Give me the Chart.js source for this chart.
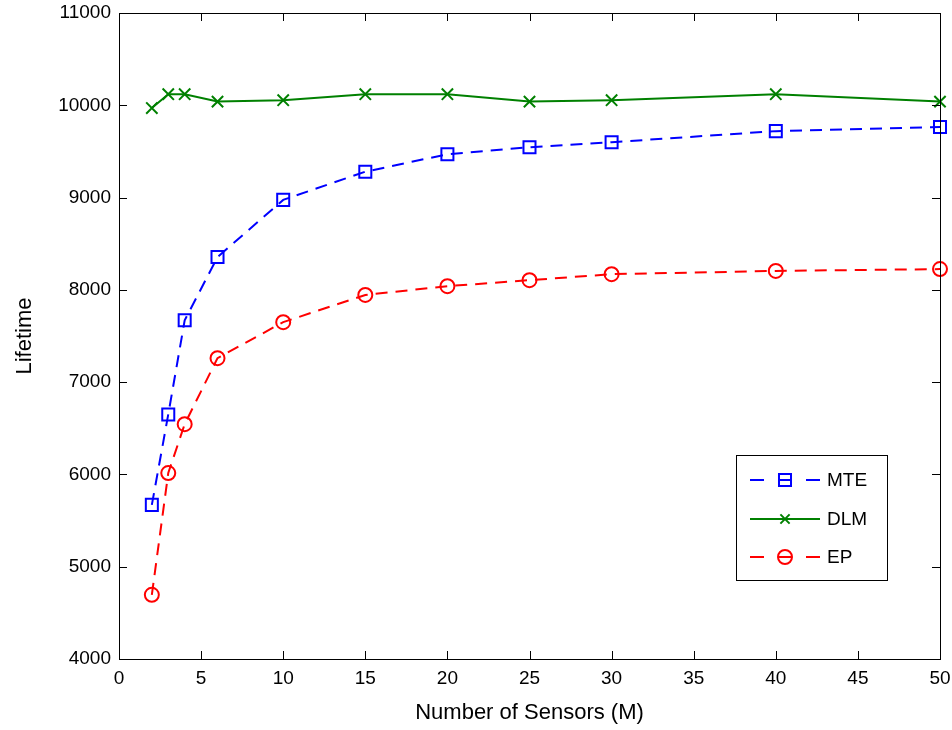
<!DOCTYPE html>
<html>
<head>
<meta charset="utf-8">
<script src="https://cdn.jsdelivr.net/npm/chart.js@4"></script>
<style>
  html, body { margin: 0; padding: 0; background: #fff; }
  #wrap { width: 952px; height: 730px; }
</style>
</head>
<body>
<div id="wrap"><canvas id="grafico"></canvas></div>
<script>
// data
const sensores = [2, 3, 4, 6, 10, 15, 20, 25, 30, 40, 50];
const valoresMTE = [5670, 6650, 7670, 8355, 8975, 9280, 9470, 9545, 9600, 9720, 9765];
const valoresDLM = [9970, 10120, 10120, 10040, 10055, 10120, 10120, 10040, 10055, 10120, 10040];
const valoresEP = [4695, 6015, 6545, 7260, 7650, 7945, 8040, 8105, 8170, 8205, 8225];
const ticksX = [0, 5, 10, 15, 20, 25, 30, 35, 40, 45, 50];
const ticksY = [4000, 5000, 6000, 7000, 8000, 9000, 10000, 11000];

const FUENTE = "'Liberation Sans', Arial, Helvetica, sans-serif";

function puntos(vals) {
  return sensores.map((s, i) => ({ x: s, y: vals[i] }));
}

// caja + ticks hacia adentro (estilo matlab) y leyenda dentro del grafico
const cajaMatlab = {
  id: "cajaMatlab",
  afterDraw(chart) {
    const ctx = chart.ctx;
    const a = chart.chartArea;
    const sx = chart.scales.x, sy = chart.scales.y;
    ctx.save();
    ctx.strokeStyle = "#000";
    ctx.lineWidth = 1;
    ctx.strokeRect(Math.round(a.left) + 0.5, Math.round(a.top) + 0.5, Math.round(a.right - a.left), Math.round(a.bottom - a.top));
    ctx.beginPath();
    ticksX.forEach(v => {
      const px = Math.round(sx.getPixelForValue(v)) + 0.5;
      ctx.moveTo(px, a.bottom); ctx.lineTo(px, a.bottom - 8);
      ctx.moveTo(px, a.top); ctx.lineTo(px, a.top + 8);
    });
    ticksY.forEach(v => {
      const py = Math.round(sy.getPixelForValue(v)) + 0.5;
      ctx.moveTo(a.left, py); ctx.lineTo(a.left + 8, py);
      ctx.moveTo(a.right, py); ctx.lineTo(a.right - 8, py);
    });
    ctx.stroke();

    // leyenda
    const lx = 736, ly = 455, lw = 151, lh = 125;
    ctx.fillStyle = "#fff";
    ctx.fillRect(lx, ly, lw, lh);
    ctx.strokeStyle = "#000";
    ctx.strokeRect(lx + 0.5, ly + 0.5, lw, lh);
    const filas = [480, 519, 557];
    chart.data.datasets.forEach((ds, i) => {
      const y = filas[i];
      ctx.strokeStyle = ds.borderColor;
      ctx.lineWidth = ds.borderWidth;
      ctx.setLineDash(ds.borderDash.length ? [14, 14] : []);
      ctx.beginPath();
      ctx.moveTo(750, y); ctx.lineTo(820, y);
      ctx.stroke();
      ctx.setLineDash([]);
      ctx.fillStyle = "rgba(0,0,0,0)";
      Chart.helpers.drawPoint(ctx, {
        pointStyle: ds.pointStyle,
        radius: ds.pointStyle === "crossRot" ? 6.5 : ds.pointRadius,
        borderWidth: ds.pointBorderWidth
      }, 785, y);
      ctx.fillStyle = "#000";
      ctx.font = "19px " + FUENTE;
      ctx.textBaseline = "middle";
      ctx.fillText(ds.label, 827, y + 1);
    });
    ctx.restore();
  }
};

function serie(label, vals, color, estilo, radio, dash) {
  return {
    label: label,
    data: puntos(vals),
    borderColor: color,
    backgroundColor: color,
    borderWidth: 2,
    borderDash: dash,
    pointStyle: estilo,
    pointRadius: radio,
    pointHoverRadius: radio,
    pointBorderWidth: 2,
    pointBorderColor: color,
    pointBackgroundColor: "rgba(0,0,0,0)",
    tension: 0,
    clip: false
  };
}

new Chart(document.getElementById("grafico"), {
  type: "line",
  data: {
    datasets: [
      serie("MTE", valoresMTE, "#0000ff", "rect", 8.5, [12, 8]),
      serie("DLM", valoresDLM, "#008000", "crossRot", 8, []),
      serie("EP", valoresEP, "#ff0000", "circle", 7, [12, 8])
    ]
  },
  options: {
    responsive: true,
    maintainAspectRatio: false,
    animation: false,
    layout: { padding: { top: 13, right: 12, left: 0, bottom: 0 } },
    plugins: { legend: { display: false }, tooltip: { enabled: false } },
    scales: {
      x: {
        type: "linear",
        min: 0, max: 50,
        afterBuildTicks: s => { s.ticks = ticksX.map(v => ({ value: v })); },
        afterFit: s => { s.height = 71; s.paddingLeft = 0; s.paddingRight = 0; },
        grid: { drawOnChartArea: false, drawTicks: false },
        border: { display: false },
        ticks: { color: "#000", font: { size: 19, family: FUENTE }, padding: 8, maxRotation: 0, callback: v => String(v) },
        title: { display: true, text: "Number of Sensors (M)", color: "#000", font: { size: 22, family: FUENTE }, padding: { top: 2, bottom: 4 } }
      },
      y: {
        min: 4000, max: 11000,
        afterBuildTicks: s => { s.ticks = ticksY.map(v => ({ value: v })); },
        afterFit: s => { s.width = 119; s.paddingTop = 0; s.paddingBottom = 0; },
        grid: { drawOnChartArea: false, drawTicks: false },
        border: { display: false },
        ticks: { color: "#000", font: { size: 19, family: FUENTE }, padding: 8, callback: v => String(v) },
        title: { display: true, text: "Lifetime", color: "#000", font: { size: 22, family: FUENTE }, padding: { top: 12, bottom: 4 } }
      }
    }
  },
  plugins: [cajaMatlab]
});
</script>
</body>
</html>
